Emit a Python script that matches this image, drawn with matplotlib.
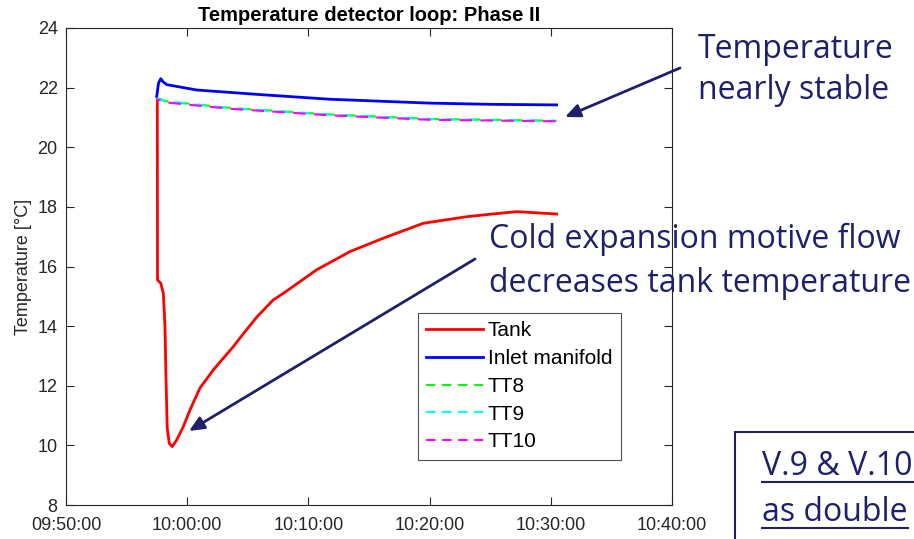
import numpy as np
import pandas as pd
import matplotlib
matplotlib.use("Agg")
import matplotlib.pyplot as plt
import matplotlib.dates as mdates
from matplotlib.lines import Line2D
from matplotlib.patches import Rectangle

plt.rcParams['font.family'] = ['Liberation Sans', 'DejaVu Sans']

day = "2020-01-01 "

tank_time = ["09:57:32", "09:57:33", "09:57:49", "09:58:02", "09:58:10", "09:58:15",
             "09:58:21", "09:58:31", "09:58:46", "09:59:08", "09:59:41", "10:00:14",
             "10:01:03", "10:02:09", "10:03:48", "10:04:21", "10:05:44", "10:07:06",
             "10:07:56", "10:10:41", "10:13:26", "10:16:11", "10:19:29", "10:23:04",
             "10:25:10", "10:27:11", "10:28:50", "10:30:29"]
tank_temp = [21.6, 15.55, 15.44, 15.1, 14.0, 12.3,
             10.6, 10.07, 9.96, 10.18, 10.63, 11.19,
             11.92, 12.53, 13.31, 13.6, 14.3, 14.88,
             15.1, 15.89, 16.5, 16.95, 17.45, 17.67,
             17.76, 17.84, 17.8, 17.76]

inlet_time = ["09:57:29", "09:57:38", "09:57:49", "09:58:00", "09:58:19", "10:00:47",
              "10:06:15", "10:11:47", "10:20:02", "10:25:00", "10:30:29"]
inlet_temp = [21.7, 22.15, 22.3, 22.2, 22.1, 21.92,
              21.76, 21.61, 21.48, 21.44, 21.42]

tt_time = ["09:57:29", "09:57:45", "09:58:19", "10:03:32", "10:11:47", "10:20:02", "10:30:29"]
tt8 = [21.65, 21.62, 21.54, 21.32, 21.10, 20.95, 20.89]
tt9 = [21.64, 21.60, 21.53, 21.31, 21.09, 20.94, 20.88]
tt10 = [21.62, 21.57, 21.50, 21.29, 21.07, 20.92, 20.87]

xticks = ["09:50:00", "10:00:00", "10:10:00", "10:20:00", "10:30:00", "10:40:00"]
yticks = [8, 10, 12, 14, 16, 18, 20, 22, 24]

to_dt = lambda ts: pd.to_datetime([day + t for t in ts])

fig = plt.figure(figsize=(9.14, 5.39), dpi=100)
ax = fig.add_axes([66 / 914, 1 - 505 / 539, 606 / 914, 477 / 539])

dash = (6, 4)
ax.plot(to_dt(tank_time), tank_temp, color='#ff0000', lw=2, label='Tank')
ax.plot(to_dt(inlet_time), inlet_temp, color='#0000ff', lw=2, label='Inlet manifold')
ax.plot(to_dt(tt_time), tt8, color='#00ff00', lw=1.5, ls=(0, dash), label='TT8')
ax.plot(to_dt(tt_time), tt9, color='#00ffff', lw=1.5, ls=(2, dash), label='TT9')
ax.plot(to_dt(tt_time), tt10, color='#ff00ff', lw=1.5, ls=(4, dash), label='TT10')

ax.set_xlim(to_dt(xticks)[0], to_dt(xticks)[-1])
ax.set_ylim(8, 24)
ax.set_xticks(to_dt(xticks))
ax.xaxis.set_major_formatter(mdates.DateFormatter('%H:%M:%S'))
ax.set_yticks(yticks)
ax.tick_params(direction='in', top=True, right=True, labelsize=13, length=6,
               color='#262626', labelcolor='#262626')
ax.tick_params(axis='x', pad=9)
ax.tick_params(axis='y', pad=6)
for s in ax.spines.values():
    s.set_color('#262626')
    s.set_linewidth(0.8)
ax.set_ylabel('Temperature [°C]', fontsize=13, color='#262626', labelpad=4)
ax.set_title('Temperature detector loop: Phase II', fontsize=14.5, fontweight='bold', pad=5)

leg = ax.legend(loc='upper left', bbox_to_anchor=(0.581, 0.4025), borderaxespad=0,
                fontsize=15, frameon=True, fancybox=False, edgecolor='#262626',
                handlelength=2.7, labelspacing=0.42, borderpad=0.4, handletextpad=0.25)
leg.get_frame().set_linewidth(0.8)
for ln in leg.get_lines()[2:]:
    ln.set_linestyle((0, (4.5, 3.2)))

navy = '#1f1f6b'
note_font = ['Open Sans', 'DejaVu Sans']
for x, y, txt in [(698, 58, 'Temperature'), (698, 99, 'nearly stable'),
                  (489, 248, 'Cold expansion motive flow'),
                  (489, 292, 'decreases tank temperature')]:
    fig.text(x / 914, 1 - y / 539, txt, color=navy, fontsize=23, family=note_font,
             va='baseline', ha='left')

arrow = dict(arrowstyle='-|>,head_length=0.9,head_width=0.4', color=navy, lw=2,
             shrinkA=0, shrinkB=0)
ax.annotate('', xy=(565 / 914, 1 - 117 / 539), xycoords='figure fraction',
            xytext=(680 / 914, 1 - 68 / 539), textcoords='figure fraction',
            arrowprops=arrow, annotation_clip=False)
ax.annotate('', xy=(189 / 914, 1 - 431 / 539), xycoords='figure fraction',
            xytext=(475 / 914, 1 - 259 / 539), textcoords='figure fraction',
            arrowprops=arrow, annotation_clip=False)

fig.patches.append(Rectangle((735 / 914, -0.1), 0.5, (539 - 432) / 539 + 0.1,
                             transform=fig.transFigure, fill=False, edgecolor=navy, lw=1.5))
for y, txt in [(475, 'V.9 & V.10'), (521, 'as double')]:
    t = fig.text(762 / 914, 1 - y / 539, txt, color=navy, fontsize=23, family=note_font,
                 va='baseline', ha='left')
    bb = t.get_window_extent(renderer=fig.canvas.get_renderer())
    x0, x1 = bb.x0 / 914, bb.x1 / 914
    yl = 1 - (y + 7) / 539
    fig.add_artist(Line2D([x0, x1], [yl, yl], transform=fig.transFigure, color=navy, lw=1.5))

fig.savefig('out.png', dpi=100)
